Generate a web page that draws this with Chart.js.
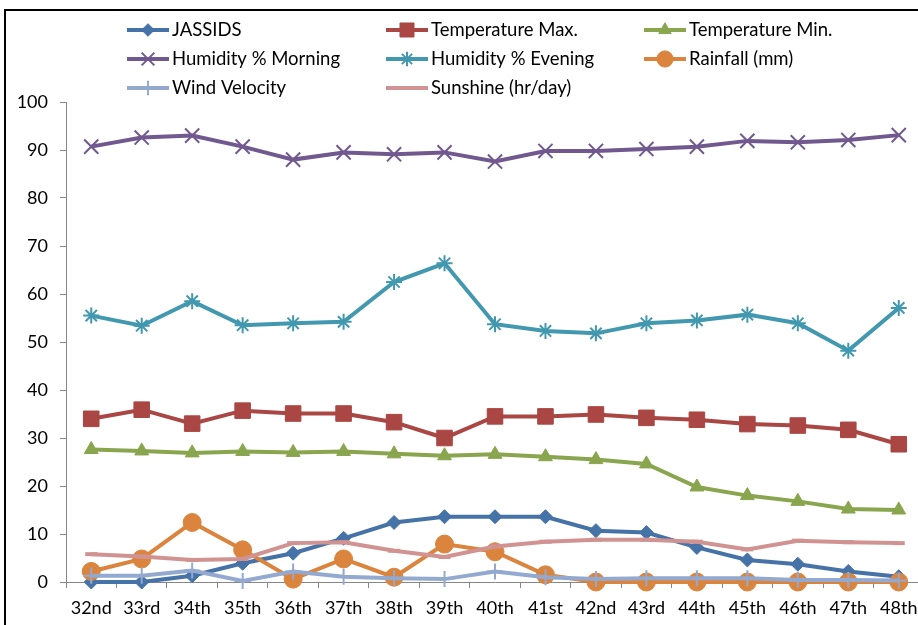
<!DOCTYPE html>
<html>
<head>
<meta charset="utf-8">
<script src="https://cdn.jsdelivr.net/npm/chart.js@4/dist/chart.umd.min.js"></script>
<style>
  html, body { margin: 0; padding: 0; background: #fff; overflow: hidden; width: 918px; height: 625px; }
  #wrap { position: absolute; left: 0; top: 0; width: 936px; height: 625px; }
  #frame { position: absolute; left: 4px; top: 9px; width: 960px; height: 700px; border: 2px solid #000; box-sizing: border-box; pointer-events: none; }
</style>
</head>
<body>
<div id="wrap"><canvas id="c" width="936" height="625"></canvas></div>
<div id="frame"></div>
<script>
const weeks = ['32nd','33rd','34th','35th','36th','37th','38th','39th','40th','41st','42nd','43rd','44th','45th','46th','47th','48th'];
const jassids      = [0, 0, 1.3, 3.9, 6.0, 9.1, 12.4, 13.6, 13.6, 13.6, 10.7, 10.3, 7.2, 4.6, 3.7, 2.2, 1.1];
const tempMax      = [34.0, 35.9, 33.0, 35.7, 35.1, 35.1, 33.3, 30.0, 34.5, 34.5, 34.9, 34.2, 33.8, 32.9, 32.6, 31.7, 28.7];
const tempMin      = [27.6, 27.3, 26.9, 27.2, 27.0, 27.2, 26.7, 26.3, 26.6, 26.1, 25.5, 24.6, 19.8, 18.0, 16.8, 15.2, 15.0];
const humMorning   = [90.7, 92.6, 93.0, 90.7, 88.0, 89.5, 89.1, 89.5, 87.6, 89.8, 89.8, 90.2, 90.7, 91.9, 91.6, 92.1, 93.1];
const humEvening   = [55.5, 53.4, 58.5, 53.5, 53.9, 54.2, 62.5, 66.4, 53.7, 52.3, 51.8, 53.9, 54.5, 55.7, 53.9, 48.2, 57.1];
const rainfall     = [2.2, 4.8, 12.4, 6.7, 0.6, 4.8, 1.0, 7.9, 6.3, 1.5, 0, 0, 0, 0, 0, 0, 0];
const windVelocity = [1.3, 1.3, 2.4, 0.2, 2.2, 1.1, 0.8, 0.6, 2.2, 1.0, 0.6, 0.8, 0.8, 0.8, 0.4, 0.4, 0.3];
const sunshine     = [5.8, 5.3, 4.6, 4.8, 8.1, 8.3, 6.5, 5.2, 7.4, 8.4, 8.8, 8.8, 8.4, 6.8, 8.6, 8.3, 8.1];
const yTicks = [0, 10, 20, 30, 40, 50, 60, 70, 80, 90, 100];

const seriesNames = ['JASSIDS','Temperature Max.','Temperature Min.','Humidity % Morning','Humidity % Evening','Rainfall (mm)','Wind Velocity','Sunshine (hr/day)'];
const seriesData = [jassids, tempMax, tempMin, humMorning, humEvening, rainfall, windVelocity, sunshine];
const colors = ['#4572A7','#AA4643','#89A54E','#71588F','#4198AF','#DB843D','#93A9CF','#D19392'];
const styles = ['rectRot','rect','triangle','crossRot','star','circle','cross','line'];
const radii  = [7, 11, 8, 10, 8, 9, 8, 6];
const pbw    = [1, 1, 1, 2, 2, 1, 2, 4];

const datasets = seriesNames.map((name, i) => ({
  label: name,
  data: seriesData[i],
  borderColor: colors[i],
  backgroundColor: colors[i],
  pointBackgroundColor: colors[i],
  pointBorderColor: colors[i],
  pointStyle: styles[i],
  pointRadius: radii[i],
  pointBorderWidth: pbw[i],
  borderWidth: 4,
  tension: 0,
  fill: false,
  clip: false,
  order: seriesNames.length - i
}));

const FONT = 'Lato, "DejaVu Sans", sans-serif';

const gridLegend = {
  id: 'gridLegend',
  afterDraw(chart) {
    const ctx = chart.ctx;
    const cols = [127, 386, 644];
    const rows = [30, 59, 88];
    chart.data.datasets.forEach((ds, i) => {
      const x0 = cols[i % 3], y = rows[Math.floor(i / 3)];
      ctx.save();
      ctx.strokeStyle = ds.borderColor;
      ctx.lineWidth = 4;
      ctx.beginPath(); ctx.moveTo(x0, y); ctx.lineTo(x0 + 42, y); ctx.stroke();
      ctx.fillStyle = ds.pointBackgroundColor;
      ctx.strokeStyle = ds.pointBorderColor;
      ctx.lineWidth = ds.pointBorderWidth;
      Chart.helpers.drawPoint(ctx, { pointStyle: ds.pointStyle, rotation: 0, radius: ds.pointRadius * 0.9, borderWidth: ds.pointBorderWidth }, x0 + 21, y);
      ctx.fillStyle = '#000';
      ctx.font = '18.5px ' + FONT;
      ctx.textBaseline = 'middle';
      ctx.textAlign = 'left';
      ctx.fillText(ds.label, x0 + 45, y);
      ctx.restore();
    });
  }
};

new Chart(document.getElementById('c'), {
  type: 'line',
  data: { labels: weeks, datasets },
  options: {
    responsive: false,
    animation: false,
    events: [],
    layout: { padding: { left: 6, top: 102, right: 7, bottom: 0 } },
    plugins: { legend: { display: false }, tooltip: { enabled: false } },
    scales: {
      x: {
        offset: true,
        grid: { offset: true, drawOnChartArea: false, tickLength: 6, color: '#868686' },
        border: { color: '#868686', width: 1 },
        ticks: { color: '#000', font: { family: FONT, size: 18 }, padding: 9, maxRotation: 0, autoSkip: false },
        afterFit(s) { s.height = 43; }
      },
      y: {
        min: 0, max: 100,
        afterBuildTicks(s) { s.ticks = yTicks.map(v => ({ value: v })); },
        grid: { drawOnChartArea: false, tickLength: 6, color: '#868686' },
        border: { color: '#868686', width: 1 },
        ticks: { color: '#000', font: { family: FONT, size: 18 }, padding: 12 },
        afterFit(s) { s.width = 60; }
      }
    }
  },
  plugins: [gridLegend]
});
</script>
</body>
</html>
